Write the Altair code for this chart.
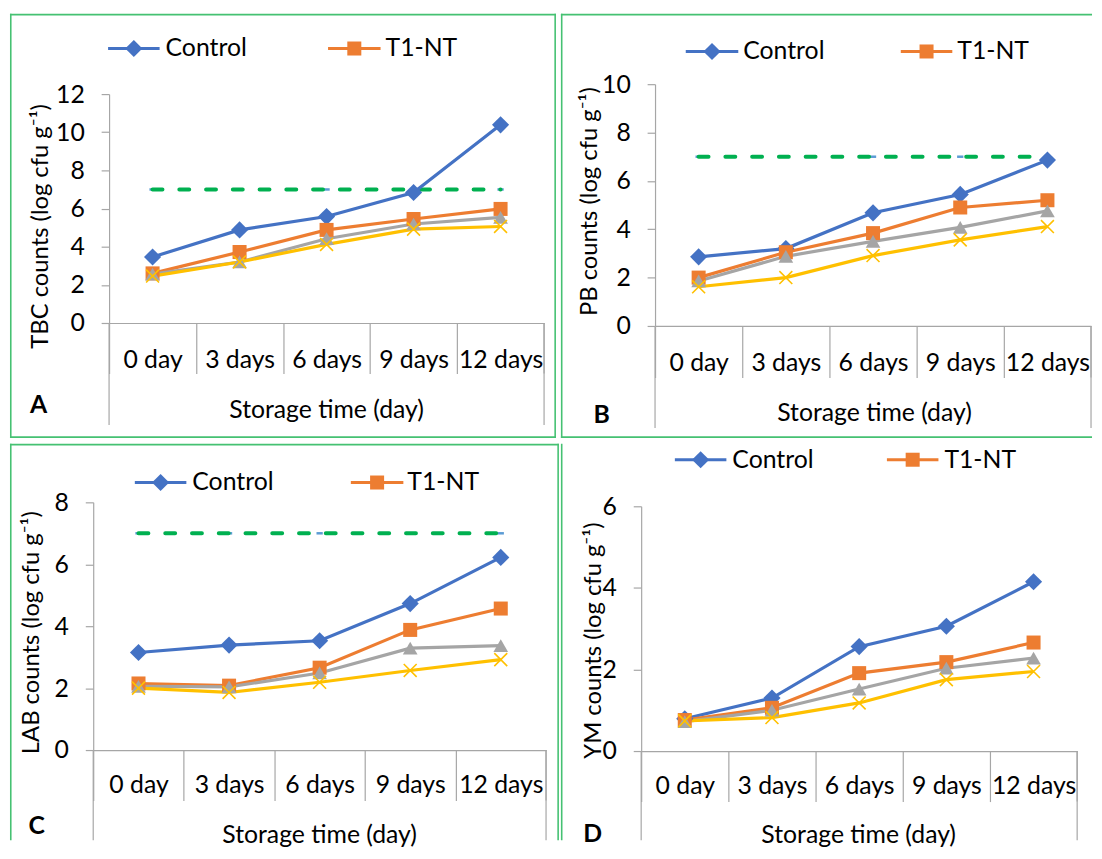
import altair as alt
import pandas as pd

# ---------------- data ----------------
days = ["0 day", "3 days", "6 days", "9 days", "12 days"]
series_names = ["Control", "T1-NT", "T2-NT", "T3-NT"]
legend_names = ["Control", "T1-NT"]
series_colors = ["#4472C4", "#ED7D31", "#A5A5A5", "#FFC000"]
x_title = "Storage time (day)"

# A: total bacterial count
tbc_control = [3.46, 4.88, 5.58, 6.84, 10.39]
tbc_t1 = [2.60, 3.72, 4.88, 5.45, 5.98]
tbc_t2 = [2.56, 3.20, 4.42, 5.19, 5.54]
tbc_t3 = [2.46, 3.20, 4.12, 4.92, 5.06]
tbc_limit = [7, 7, 7, 7, 7]
tbc_ticks = [0, 2, 4, 6, 8, 10, 12]

# B: psychrotrophic bacteria
pb_control = [2.86, 3.20, 4.68, 5.44, 6.86]
pb_t1 = [2.00, 3.05, 3.84, 4.90, 5.20]
pb_t2 = [1.86, 2.88, 3.50, 4.08, 4.76]
pb_t3 = [1.62, 2.00, 2.91, 3.56, 4.11]
pb_limit = [7, 7, 7, 7, 7]
pb_ticks = [0, 2, 4, 6, 8, 10]

# C: lactic acid bacteria
lab_control = [3.15, 3.39, 3.53, 4.73, 6.22]
lab_t1 = [2.15, 2.08, 2.66, 3.88, 4.57]
lab_t2 = [2.06, 2.04, 2.49, 3.29, 3.37]
lab_t3 = [2.00, 1.86, 2.19, 2.57, 2.92]
lab_limit = [7, 7, 7, 7, 7]
lab_ticks = [0, 2, 4, 6, 8]

# D: yeasts and moulds
ym_control = [0.79, 1.30, 2.56, 3.06, 4.15]
ym_t1 = [0.76, 1.06, 1.91, 2.18, 2.66]
ym_t2 = [0.72, 1.00, 1.52, 2.03, 2.28]
ym_t3 = [0.74, 0.82, 1.18, 1.75, 1.95]
ym_ticks = [0, 2, 4, 6]

# ---------------- styles ----------------
FONT = "Lato"
FS = 25
AX = "#A6A6A6"
BORDER = "#45C172"
LIMIT = "#00B050"
X_PATH = "M-1,-1L1,1M-1,1L1,-1"
MARKERS = [("diamond", 300), ("square", 200), ("triangle-up", 220)]

panels = [
    dict(series=[tbc_control, tbc_t1, tbc_t2, tbc_t3], limit=tbc_limit, yticks=tbc_ticks,
         ytitle="TBC counts (log cfu g\u207b\u00b9)", letter="A",
         W=554, H=428, xr=(100, 539), yr=(312, 81), tick=51, labdy=37,
         xt=(319, 399), ytp=(31, 214), outer=415, lp=(29, 395),
         ly=35, leg=[(99, 151, 157), (321, 374, 379)],
         right_at=551, borders=dict(top=True, left=True, right=True, bottom=True)),
    dict(series=[pb_control, pb_t1, pb_t2, pb_t3], limit=pb_limit, yticks=pb_ticks,
         ytitle="PB counts (log cfu g\u207b\u00b9)", letter="B",
         W=530, H=428, xr=(95, 535), yr=(315, 71), tick=52, labdy=37,
         xt=(316, 402), ytp=(29, 189), outer=418, lp=(41, 405),
         ly=38, leg=[(126, 179, 184), (343, 395, 400)],
         right_at=536, borders=dict(top=True, left=True, right=False, bottom=True)),
    dict(series=[lab_control, lab_t1, lab_t2, lab_t3], limit=lab_limit, yticks=lab_ticks,
         ytitle="LAB counts (log cfu g\u207b\u00b9)", letter="C",
         W=554, H=400, xr=(84, 541), yr=(309, 59), tick=51, labdy=35,
         xt=(312, 394), ytp=(22, 190), outer=400, lp=(27, 386),
         ly=39, leg=[(126, 178, 184), (344, 397, 401)],
         right_at=554, borders=dict(top=True, left=True, right=True, bottom=False)),
    dict(series=[ym_control, ym_t1, ym_t2, ym_t3], limit=None, yticks=ym_ticks,
         ytitle="YM counts (log cfu g\u207b\u00b9)", letter="D",
         W=530, H=400, xr=(81, 521), yr=(310, 63), tick=51, labdy=35,
         xt=(300, 394), ytp=(33, 198), outer=400, lp=(32, 394),
         ly=16, leg=[(115, 167, 173), (329, 381, 387)],
         right_at=536, borders=dict(top=False, left=True, right=False, bottom=False)),
]

one = pd.DataFrame({"k": [0]})


def vrule(x, y1, y2, color=AX, width=1.2):
    return alt.Chart(one).mark_rule(color=color, strokeWidth=width).encode(
        x=alt.value(x), y=alt.value(y1), y2=alt.value(y2))


def hrule(y, x1, x2, color=BORDER, width=1.6):
    return alt.Chart(one).mark_rule(color=color, strokeWidth=width).encode(
        y=alt.value(y), x=alt.value(x1), x2=alt.value(x2))


def build(p):
    W, H = p["W"], p["H"]
    x0, x1 = p["xr"]
    yb, yt = p["yr"]
    step = (x1 - x0) / len(days)

    rows = []
    for name, vals in zip(series_names, p["series"]):
        for i, (d, v) in enumerate(zip(days, vals)):
            rows.append({"day": d, "series": name, "value": v, "i": i})
    df = pd.DataFrame(rows)

    xsc = alt.Scale(type="point", domain=days, range=[x0, x1], padding=0.5)
    ysc = alt.Scale(domain=[0, max(p["yticks"])], range=[yb, yt], nice=False, zero=True)
    xaxis = alt.Axis(
        orient="bottom", offset=-(H - yb), grid=False,
        domainColor=AX, domainWidth=1.2, tickColor=AX, tickWidth=1.2,
        tickSize=p["tick"], tickOffset=-step / 2, labelOffset=step / 2,
        labelPadding=p["labdy"] - p["tick"], labelBaseline="middle", labelAngle=0,
        labelFont=FONT, labelFontSize=FS, labelColor="black", labelOverlap=False,
        title=x_title, titleX=p["xt"][0], titleY=p["xt"][1] - yb,
        titleAlign="center", titleBaseline="middle", titleFont=FONT,
        titleFontSize=FS, titleFontWeight="normal", titleColor="black")
    yaxis = alt.Axis(
        orient="left", offset=-x0, values=p["yticks"], grid=False,
        domainColor=AX, domainWidth=1.2, tickColor=AX, tickWidth=1.2, tickSize=8,
        labelPadding=17, labelFont=FONT, labelFontSize=FS, labelColor="black",
        labelBaseline="middle",
        title=p["ytitle"], titleX=p["ytp"][0] - x0, titleY=p["ytp"][1],
        titleAngle=270, titleAlign="center", titleBaseline="middle",
        titleFont=FONT, titleFontSize=24, titleFontWeight="normal", titleColor="black")

    X = alt.X("day:N", scale=xsc, axis=xaxis, sort=days)
    Y = alt.Y("value:Q", scale=ysc, axis=yaxis)

    layers = []
    # frame
    b = p["borders"]
    ra = p["right_at"]
    if b["top"]:
        layers.append(hrule(0.8, 0, ra))
    if b["bottom"]:
        layers.append(hrule(H - 0.8, 0, ra))
    if b["left"]:
        layers.append(vrule(0.8, 0, H, BORDER, 1.6))
    if b["right"]:
        layers.append(vrule(ra - 0.8, 0, H, BORDER, 1.6))

    # category separators (Excel multi-level axis)
    layers.append(vrule(x1, yb, yb + p["tick"]))
    layers.append(vrule(x0, yb, p["outer"]))
    layers.append(vrule(x1, yb, p["outer"]))

    # limit line
    if p["limit"] is not None:
        ldf = pd.DataFrame({"day": days, "value": p["limit"], "i": list(range(len(days)))})
        layers.append(alt.Chart(ldf).mark_point(shape="stroke", color="#5B9BD5", strokeWidth=2.5,
                                                size=40, opacity=1).encode(x=X, y=Y))
        layers.append(alt.Chart(ldf).mark_line(color=LIMIT, strokeWidth=4, strokeDash=[10, 17],
                                               strokeCap="round").encode(x=X, y=Y, order="i:Q"))

    # data lines
    layers.append(alt.Chart(df).mark_line(strokeWidth=3.2).encode(
        x=X, y=Y, order="i:Q",
        color=alt.Color("series:N", scale=alt.Scale(domain=series_names, range=series_colors),
                        legend=None)))
    # markers
    for name, color, (shape, size) in zip(series_names[:3], series_colors[:3], MARKERS):
        layers.append(alt.Chart(df).transform_filter(alt.datum.series == name).mark_point(
            shape=shape, filled=True, color=color, size=size, opacity=1).encode(x=X, y=Y))
    layers.append(alt.Chart(df).transform_filter(alt.datum.series == series_names[3]).mark_point(
        shape=X_PATH, filled=False, color=series_colors[3], size=170, strokeWidth=1.6,
        opacity=1).encode(x=X, y=Y))

    # legend
    ly = p["ly"]
    for name, color, (shape, size), (lx0, lx1, tx) in zip(legend_names, series_colors[:2],
                                                         MARKERS[:2], p["leg"]):
        layers.append(alt.Chart(one).mark_rule(color=color, strokeWidth=3.2).encode(
            x=alt.value(lx0), x2=alt.value(lx1), y=alt.value(ly)))
        layers.append(alt.Chart(one).mark_point(shape=shape, filled=True, color=color, size=size,
                                                opacity=1).encode(
            x=alt.value((lx0 + lx1) / 2), y=alt.value(ly)))
        layers.append(alt.Chart(one).mark_text(text=name, align="left", baseline="middle",
                                               font=FONT, fontSize=FS, color="black").encode(
            x=alt.value(tx), y=alt.value(ly)))

    # panel letter
    layers.append(alt.Chart(one).mark_text(text=p["letter"], align="center", baseline="middle",
                                           font=FONT, fontSize=FS, fontWeight="bold",
                                           color="black").encode(
        x=alt.value(p["lp"][0]), y=alt.value(p["lp"][1])))

    return alt.layer(*layers).properties(width=W, height=H)


charts = [build(p) for p in panels]
chart = alt.concat(*charts, columns=2, spacing=alt.RowColnumber(row=6, column=2),
                   bounds="flush").properties(padding=0).configure(
    font=FONT, view=alt.ViewConfig(stroke="transparent"))

chart.save("out.html", embed_options={"renderer": "svg", "actions": False})
